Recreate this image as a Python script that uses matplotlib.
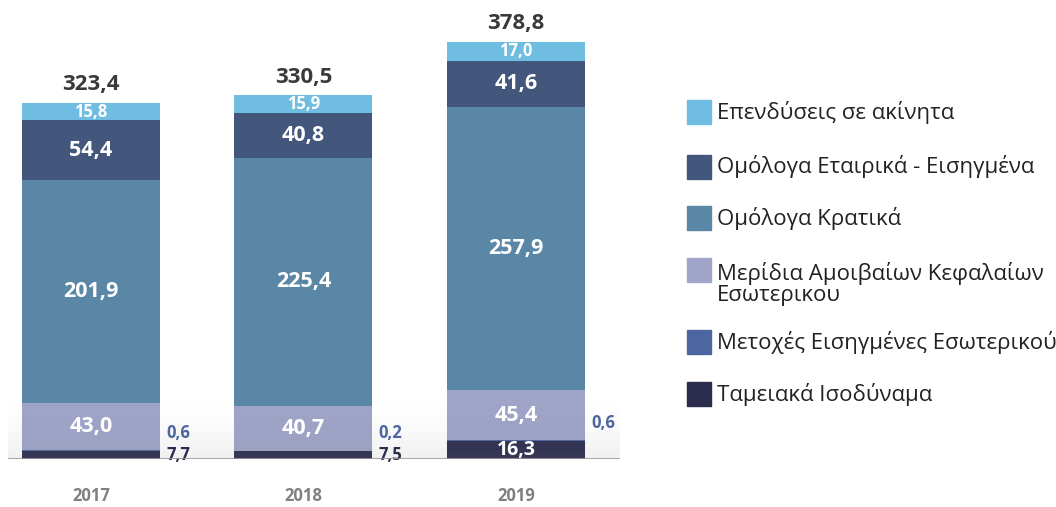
import numpy as np
import matplotlib
matplotlib.use("Agg")
import matplotlib.pyplot as plt
from matplotlib.patches import Rectangle

plt.rcParams['font.family'] = ['Open Sans', 'DejaVu Sans']

years = ["2017", "2018", "2019"]
cash = [7.7, 7.5, 16.3]
equities = [0.6, 0.2, 0.6]
funds = [43.0, 40.7, 45.4]
gov_bonds = [201.9, 225.4, 257.9]
corp_bonds = [54.4, 40.8, 41.6]
real_estate = [15.8, 15.9, 17.0]
totals = [323.4, 330.5, 378.8]

# legend labels, bottom segment first
labels = ["Ταμειακά Ισοδύναμα",
          "Μετοχές Εισηγμένες Εσωτερικού",
          "Μερίδια Αμοιβαίων Κεφαλαίων\nΕσωτερικου",
          "Ομόλογα Κρατικά",
          "Ομόλογα Εταιρικά - Εισηγμένα",
          "Επενδύσεις σε ακίνητα"]

series = [cash, equities, funds, gov_bonds, corp_bonds, real_estate]
colors = ["#2b2b4e", "#4d66a0", "#9fa4c8", "#5b87a6", "#43567c", "#6fbde0"]


def fmt(v):
    return f"{v:.1f}".replace(".", ",")


fig = plt.figure(figsize=(10.56, 5.07), dpi=100, facecolor="white")
ax = fig.add_axes([8 / 1056, 48 / 507, 612 / 1056, 459 / 507])
ax.set_facecolor("white")

x = np.arange(len(years))
width = 0.65
bottom = np.zeros(len(years))
for vals, col in zip(series, colors):
    ax.bar(x, vals, width, bottom=bottom, color=col, zorder=2)
    bottom += np.array(vals)
seg_bottoms = np.cumsum([[0] * 3] + series, axis=0)

# labels inside segments
for i in range(len(years)):
    for k, vals in enumerate(series):
        v = vals[i]
        mid = seg_bottoms[k][i] + v / 2
        if k == 5:
            ax.text(x[i], mid, fmt(v), ha="center", va="center", color="white",
                    fontsize=12, fontweight="bold", zorder=4)
        elif k in (2, 3, 4):
            ax.text(x[i], mid, fmt(v), ha="center", va="center", color="white",
                    fontsize=15.5, fontweight="bold", zorder=4)
        elif k == 0 and v > 10:
            ax.text(x[i], mid, fmt(v), ha="center", va="center", color="white",
                    fontsize=14, fontweight="bold", zorder=4)

# small values to the right of bars
xr = x + width / 2 + 0.03
for i in range(len(years)):
    if cash[i] < 10:
        ax.text(xr[i], 4, fmt(cash[i]), ha="left", va="center",
                color="#2b2b4e", fontsize=12, fontweight="bold", zorder=4)
        ax.text(xr[i], 24, fmt(equities[i]), ha="left", va="center",
                color="#4d66a0", fontsize=12, fontweight="bold", zorder=4)
    else:
        ax.text(xr[i], 33, fmt(equities[i]), ha="left", va="center",
                color="#4d66a0", fontsize=12, fontweight="bold", zorder=4)

# totals
for i in range(len(years)):
    ax.text(x[i], totals[i] + 7, fmt(totals[i]), ha="center", va="bottom",
            color="#3a3a3a", fontsize=16, fontweight="bold", zorder=4)

# soft shadow near the baseline
grad = np.linspace(0, 1, 100).reshape(-1, 1)
rgba = np.zeros((100, 1, 4))
rgba[..., :3] = 0.55
rgba[..., 3] = 0.13 * grad[::-1] ** 1.5
ax.imshow(rgba, extent=[-0.39, 2.49, 0, 55], aspect="auto", origin="lower", zorder=3)

ax.set_xlim(-0.39, 2.49)
ax.set_ylim(0, 417)
ax.axhline(0, color="#9a9a9a", lw=1.2, zorder=5)
for s in ax.spines.values():
    s.set_visible(False)
ax.set_yticks([])
ax.set_xticks(x)
ax.set_xticklabels(years, fontsize=12, fontweight="bold", color="#808080")
ax.tick_params(axis="x", length=0, pad=20)

# legend, top entry first
legend_y = [112, 167, 218, 284, 342, 394]
for lab, col, yp in zip(labels[::-1], colors[::-1], legend_y):
    top_sq = 258 if "\n" in lab else yp - 12
    fig.patches.append(Rectangle((687 / 1056, 1 - (top_sq + 24) / 507), 24 / 1056, 24 / 507,
                                 transform=fig.transFigure, color=col))
    fig.text(717 / 1056, 1 - yp / 507, lab, ha="left", va="center",
             fontsize=16, color="#222222", linespacing=1.05)

fig.savefig("out.png", dpi=100, facecolor="white")
